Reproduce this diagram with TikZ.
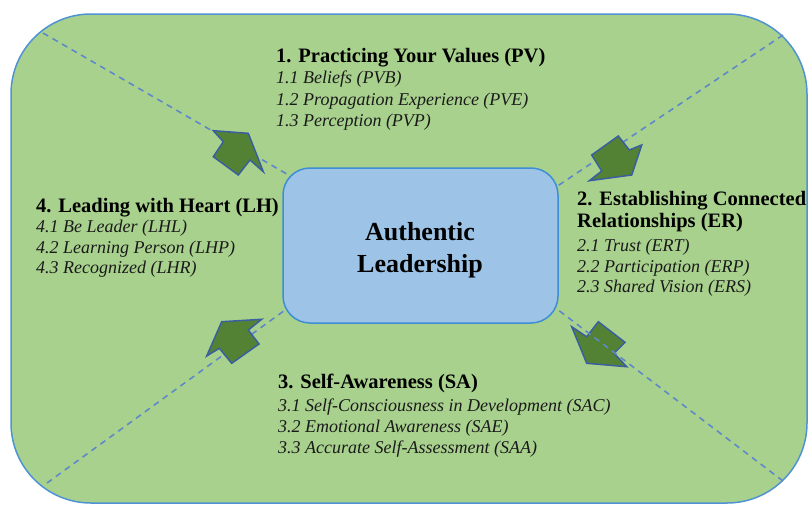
\documentclass[tikz,border=0pt]{standalone}
\usepackage{fontspec}
\setmainfont{Liberation Serif}
\definecolor{outergreen}{HTML}{A9D18E}
\definecolor{outerblue}{HTML}{4F93D2}
\definecolor{boxfill}{HTML}{9DC3E6}
\definecolor{boxblue}{HTML}{3D8ED4}
\definecolor{dashblue}{HTML}{5F88C8}
\definecolor{arrowgreen}{HTML}{548235}
\definecolor{arrowblue}{HTML}{3A5F9E}
\definecolor{txtdark}{HTML}{1A1A1A}
\begin{document}
\begin{tikzpicture}[x=1pt,y=-1pt,
  head/.style={font=\bfseries\fontsize{20.5}{24}\selectfont, anchor=base west, inner sep=0pt, text=black},
  itm/.style={font=\itshape\fontsize{18}{21}\selectfont, anchor=base west, inner sep=0pt, text=txtdark},
  guide/.style={draw=dashblue, dash pattern=on 6pt off 5pt, line width=1.6pt},
  blockarrow/.style={fill=arrowgreen, draw=arrowblue, line width=1.5pt, line join=miter},
  corelabel/.style={font=\bfseries\fontsize{26}{32}\selectfont, anchor=base, inner sep=0pt, text=black}]
\useasboundingbox (0,0) rectangle (808,504);
% outer frame
\draw[fill=outergreen, draw=outerblue, line width=1.5pt, rounded corners=80pt] (11,14) rectangle (807,503);
% guide end points
\coordinate (tlc) at (43,33);
\coordinate (trc) at (783,35);
\coordinate (blc) at (47,483);
\coordinate (brc) at (783,481);
\coordinate (tlb) at (292,177);
\coordinate (trb) at (553,189);
\coordinate (blb) at (292,305);
\coordinate (brb) at (553,306);
% bottom-right arrow lies under its guide line
\draw[blockarrow] (571.7,326.7) -- (586.7,336.7) -- (598.3,321.7) -- (625,342.3) -- (614,353.3) -- (626.7,366.7) -- (586.7,363.3) -- cycle;
\draw[guide] (brc) -- (brb);
\draw[guide] (tlc) -- (tlb);
\draw[guide] (trc) -- (trb);
\draw[guide] (blc) -- (blb);
% other arrows
\draw[blockarrow] (213.3,130.7) -- (248.3,133.3) -- (263.3,171.7) -- (250,160) -- (238.3,175) -- (213.3,156.7) -- (223.3,141.7) -- cycle;
\draw[blockarrow] (591.7,155) -- (618.3,136) -- (629.3,150) -- (641.7,145) -- (631.7,175) -- (589.3,180.7) -- (601.7,171) -- cycle;
\draw[blockarrow] (206.7,356) -- (221.7,321.7) -- (261.7,319.3) -- (248.3,330) -- (259,344) -- (231.7,363.3) -- (219.3,348.3) -- cycle;
% centre box
\node[draw=boxblue, fill=boxfill, line width=1.5pt, rounded corners=27pt, minimum width=275pt, minimum height=155pt, inner sep=0pt] (core) at (420.5,245.5) {};
\node[corelabel] (auth) at (420,240) {Authentic};
\node[corelabel] (lead) at (420,272) {Leadership};
% 1
\node[head] (pv) at (276,62) {1. Practicing Your Values (PV)};
\node[itm] (pv1) at (276,83) {1.1 Beliefs (PVB)};
\node[itm] (pv2) at (276,105) {1.2 Propagation Experience (PVE)};
\node[itm] (pv3) at (276,126) {1.3 Perception (PVP)};
% 2
\node[head] (er) at (577,205) {2. Establishing Connected};
\node[head] (erb) at (577,227) {Relationships (ER)};
\node[itm] (er1) at (577,251) {2.1 Trust (ERT)};
\node[itm] (er2) at (577,272) {2.2 Participation (ERP)};
\node[itm] (er3) at (577,292) {2.3 Shared Vision (ERS)};
% 3
\node[head] (sa) at (278,388) {3. Self-Awareness (SA)};
\node[itm] (sa1) at (278,411) {3.1 Self-Consciousness in Development (SAC)};
\node[itm] (sa2) at (278,432) {3.2 Emotional Awareness (SAE)};
\node[itm] (sa3) at (278,453) {3.3 Accurate Self-Assessment (SAA)};
% 4
\node[head] (lh) at (36,212) {4. Leading with Heart (LH)};
\node[itm] (lh1) at (36,232) {4.1 Be Leader (LHL)};
\node[itm] (lh2) at (36,253) {4.2 Learning Person (LHP)};
\node[itm] (lh3) at (36,273) {4.3 Recognized (LHR)};
\end{tikzpicture}
\end{document}
